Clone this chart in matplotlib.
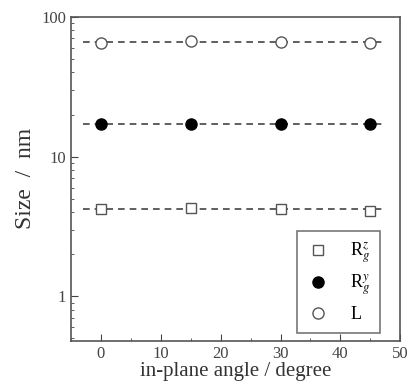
import matplotlib
matplotlib.use("Agg")
import matplotlib.pyplot as plt
import numpy as np

angles = [0, 15, 30, 45]
rgz = [4.2, 4.3, 4.2, 4.1]
rgy = [17, 17, 17, 17]
L = [65, 67, 66, 65]

plt.rcParams['font.family'] = ['Liberation Serif', 'DejaVu Serif']
plt.rcParams['mathtext.fontset'] = 'stix'

fig = plt.figure(figsize=(4.13, 3.91), dpi=100)
ax = fig.add_axes([0.172, 0.128, 0.797, 0.829])

fitx = np.array([-3, 47])
for vals in (rgz, rgy, L):
    ax.plot(fitx, [np.mean(vals)] * 2, ls=(0, (4, 3)), color='#444444', lw=1.2, zorder=1)

ax.plot(angles, rgz, ls='none', marker='s', mfc='white', mec='#555555', ms=7, label=r'R$_g^z$', zorder=3)
ax.plot(angles, rgy, ls='none', marker='o', mfc='black', mec='black', ms=8, label=r'R$_g^y$', zorder=3)
ax.plot(angles, L, ls='none', marker='o', mfc='white', mec='#555555', ms=8, label='L', zorder=3)

ax.set_yscale('log')
ax.set_xlim(-5, 50)
ax.set_ylim(0.48, 100)
ax.set_xticks([0, 10, 20, 30, 40, 50])
ax.set_xticks(np.arange(-5, 50, 5), minor=True)
ax.tick_params(which='both', direction='in', labelsize=12, colors='#444444')
ax.tick_params(which='major', length=5)
ax.tick_params(which='minor', length=2.5)
ax.set_yticks([1, 10, 100])
ax.set_yticklabels(['1', '10', '100'])
for s in ax.spines.values():
    s.set_color('#555555')
    s.set_linewidth(1.2)

ax.set_xlabel('in-plane angle / degree', fontsize=15, labelpad=0, color='#333333')
ax.set_ylabel('Size  /  nm', fontsize=17, color='#333333')

leg = ax.legend(loc='lower right', fontsize=13, frameon=True, fancybox=False,
                edgecolor='#555555', handlelength=1.2, borderpad=0.55, labelspacing=0.42,
                handletextpad=1.2, bbox_to_anchor=(0.94, 0.025), borderaxespad=0)
leg.get_frame().set_linewidth(1.2)

fig.savefig('out.png', dpi=100)
